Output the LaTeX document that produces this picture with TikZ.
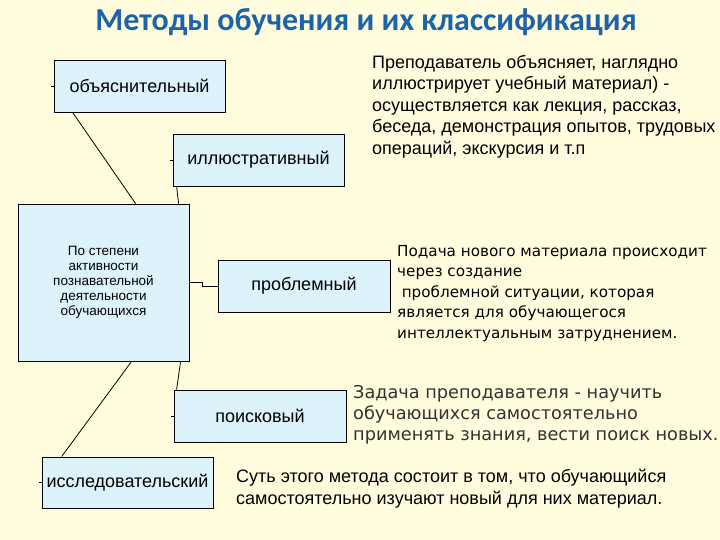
\documentclass[tikz,border=0pt]{standalone}
\usepackage{fontspec}
\setmainfont{Liberation Sans}
\newfontfamily\titlefont{Carlito}
\newfontfamily\verdfont{DejaVu Sans}
\definecolor{bgcream}{RGB}{255,253,222}
\definecolor{boxblue}{RGB}{220,243,251}
\definecolor{titleblue}{RGB}{28,99,168}
\definecolor{notegray}{RGB}{50,50,50}

\begin{document}
\begin{tikzpicture}[x=1pt,y=-1pt,
  method/.style={draw, fill=boxblue, line width=0.8pt, minimum width=171pt, minimum height=52pt, inner sep=0pt, font=\fontsize{18}{21.6}\selectfont},
  note/.style={anchor=north west, align=left, inner sep=0pt, font=\fontsize{18}{21.5}\selectfont},
  link/.style={line width=0.8pt}]
\fill[bgcream] (0,0) rectangle (720,540);
\useasboundingbox (0,0) rectangle (720,540);

\node[font=\titlefont\bfseries\fontsize{32}{34}\selectfont, text=titleblue] (title) at (366,22) {Методы обучения и их классификация};

\node[method] (obyasn) at (139.5,86) {объяснительный};
\node[method] (illyustr) at (258.5,160) {иллюстративный};
\node[method, minimum height=157pt, font=\fontsize{13.5}{15}\selectfont, align=center] (stepen) at (103.5,282.5) {По степени\\активности\\познавательной\\деятельности\\обучающихся};
\node[method, minimum width=172pt] (problem) at (304,286) {проблемный};
\node[method, minimum width=172pt] (poisk) at (260,416) {поисковый};
\node[method, minimum height=51pt] (issled) at (127.5,482.5) {исследовательский};

\draw[link] ([xshift=19pt]obyasn.south west) -- ([xshift=118pt]stepen.north west);
\draw[link] ([xshift=4pt]illyustr.south west) -- ([xshift=161pt]stepen.north west);
\draw[link] (stepen.east) -- ++(13,0) |- (problem.west);
\draw[link] ([xshift=114pt]stepen.south west) -- ([xshift=20pt]issled.north west);
\draw[link] ([xshift=163pt]stepen.south west) -- ([xshift=3pt]poisk.north west);
\draw[link] (obyasn.west) -- ++(-3,0);
\draw[link] (illyustr.west) -- ++(-3,0);
\draw[link] (poisk.west) -- ++(-3,0);
\draw[link] (issled.west) -- ++(-3,0);

\node[note] (prepod) at (372,55) {Преподаватель объясняет, наглядно\\иллюстрирует учебный материал) -\\осуществляется как лекция, рассказ,\\беседа, демонстрация опытов, трудовых\\операций, экскурсия и т.п};
\node[note, font=\verdfont\fontsize{15.2}{20.5}\selectfont] (podacha) at (397,245) {Подача нового материала происходит\\через создание\\\hspace*{0.3em}проблемной ситуации, которая\\является для обучающегося\\интеллектуальным затруднением.};
\node[note, font=\verdfont\fontsize{17.7}{21}\selectfont, text=notegray] (zadacha) at (353,385) {Задача преподавателя - научить\\обучающихся самостоятельно\\применять знания, вести поиск новых.};
\node[note] (sut) at (236,469) {Суть этого метода состоит в том, что обучающийся\\самостоятельно изучают новый для них материал.};
\end{tikzpicture}
\end{document}
